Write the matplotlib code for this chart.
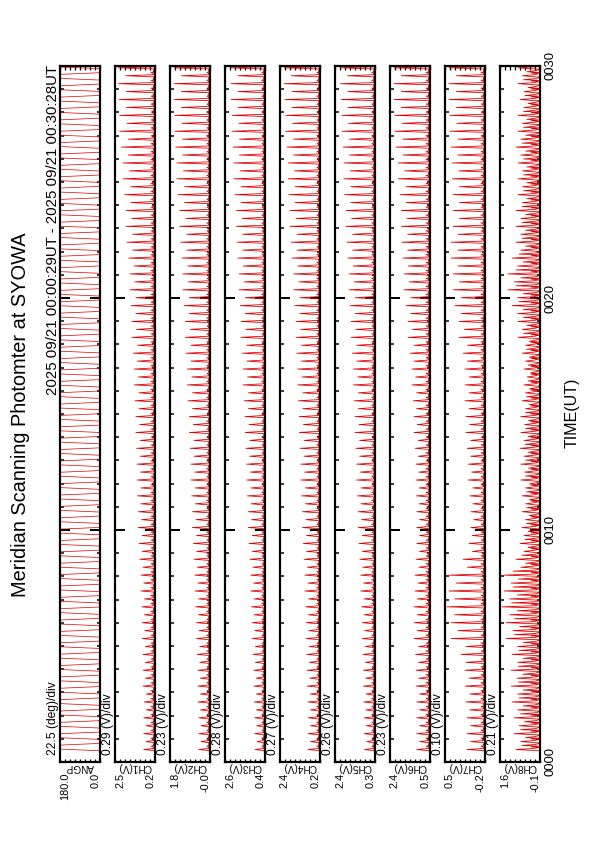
#!/usr/bin/env python3
import numpy as np
import matplotlib.pyplot as plt

plt.rcParams['font.family'] = ['Liberation Sans', 'DejaVu Sans']

W, H = 595, 842

title = "Meridian Scanning Photomter at SYOWA"
header = "2025 09/21 00:00:29UT - 2025 09/21 00:30:28UT"

names = ["ANGP", "CH1(V)", "CH2(V)", "CH3(V)", "CH4(V)", "CH5(V)", "CH6(V)", "CH7(V)", "CH8(V)"]
vmax = [180.0, 2.5, 1.8, 2.6, 2.4, 2.4, 2.4, 0.5, 1.6]
vmin = [0.0, 0.2, -0.0, 0.4, 0.2, 0.3, 0.5, -0.2, -0.1]
vmax_lbl = ["180.0", "2.5", "1.8", "2.6", "2.4", "2.4", "2.4", "0.5", "1.6"]
vmin_lbl = ["0.0", "0.2", "-0.0", "0.4", "0.2", "0.3", "0.5", "-0.2", "-0.1"]
div_lbl = ["22.5 (deg)/div", "0.29 (V)/div", "0.23 (V)/div", "0.28 (V)/div", "0.27 (V)/div",
           "0.26 (V)/div", "0.23 (V)/div", "0.10 (V)/div", "0.21 (V)/div"]

time_ticks = [0, 10, 20, 30]
time_lbl = ["0000", "0010", "0020", "0030"]

# scan timing (minutes from 0000)
t_start = 29 / 60
t_end = 30 + 28 / 60
sweep_min = 20.5 / 60      # one photometer spike per sweep
ang_half_min = 14.7 / 60   # angle flips 0->180 or 180->0 once in this time
ang_move = 0.3             # part of that time spent moving, rest dwelling at the end
ang_ends = [0.0, 180.0]

# peak height of the spikes, per minute 0..29, as fraction of the panel range
peak_frac = {
    "CH1(V)": [0.28, 0.28, 0.27, 0.30, 0.30, 0.32, 0.33, 0.35, 0.38, 0.40, 0.42, 0.44, 0.45, 0.46, 0.48,
               0.50, 0.52, 0.55, 0.58, 0.60, 0.63, 0.66, 0.70, 0.73, 0.76, 0.80, 0.84, 0.88, 0.90, 0.92],
    "CH2(V)": [0.28, 0.28, 0.30, 0.30, 0.32, 0.34, 0.36, 0.38, 0.40, 0.42, 0.44, 0.46, 0.48, 0.50, 0.52,
               0.55, 0.57, 0.60, 0.62, 0.65, 0.68, 0.70, 0.73, 0.76, 0.80, 0.83, 0.86, 0.88, 0.90, 0.90],
    "CH3(V)": [0.25, 0.26, 0.27, 0.28, 0.30, 0.32, 0.34, 0.36, 0.38, 0.40, 0.42, 0.44, 0.46, 0.48, 0.50,
               0.52, 0.55, 0.57, 0.60, 0.62, 0.65, 0.68, 0.70, 0.72, 0.75, 0.78, 0.80, 0.82, 0.85, 0.85],
    "CH4(V)": [0.30, 0.30, 0.30, 0.32, 0.33, 0.35, 0.36, 0.38, 0.40, 0.42, 0.44, 0.46, 0.48, 0.50, 0.52,
               0.54, 0.56, 0.58, 0.60, 0.63, 0.66, 0.70, 0.72, 0.75, 0.78, 0.80, 0.83, 0.86, 0.88, 0.90],
    "CH5(V)": [0.26, 0.27, 0.28, 0.29, 0.30, 0.32, 0.34, 0.36, 0.38, 0.40, 0.42, 0.44, 0.46, 0.48, 0.50,
               0.52, 0.54, 0.57, 0.60, 0.62, 0.65, 0.68, 0.70, 0.73, 0.76, 0.78, 0.80, 0.83, 0.85, 0.86],
    "CH6(V)": [0.33, 0.33, 0.33, 0.35, 0.36, 0.40, 0.40, 0.38, 0.35, 0.33, 0.33, 0.34, 0.35, 0.37, 0.40,
               0.42, 0.45, 0.50, 0.55, 0.60, 0.65, 0.68, 0.70, 0.72, 0.75, 0.80, 0.85, 0.88, 0.90, 0.90],
    "CH7(V)": [0.45, 0.45, 0.48, 0.50, 0.60, 0.85, 0.95, 0.90, 0.55, 0.40, 0.35, 0.38, 0.42, 0.45, 0.48,
               0.50, 0.50, 0.55, 0.65, 0.75, 0.80, 0.85, 0.85, 0.80, 0.80, 0.82, 0.85, 0.88, 0.90, 0.90],
    "CH8(V)": [0.60, 0.65, 0.70, 0.72, 0.70, 0.85, 0.95, 0.90, 0.60, 0.50, 0.45, 0.45, 0.48, 0.50, 0.48,
               0.45, 0.40, 0.45, 0.55, 0.70, 0.80, 0.70, 0.60, 0.60, 0.55, 0.55, 0.60, 0.55, 0.50, 0.55],
}
# small bump between spikes and the baseline, fraction of range
ripple_frac = {"CH1(V)": 0.10, "CH2(V)": 0.08, "CH3(V)": 0.08, "CH4(V)": 0.08, "CH5(V)": 0.08,
               "CH6(V)": 0.10, "CH7(V)": 0.10, "CH8(V)": 0.22}
base_frac = 0.03
back_sweep = [1.0, 0.8]   # spike on forward / return sweep

red = '#e00000'

sweeps = np.arange(t_start, t_end, sweep_min)
ang_times = np.arange(t_start, t_end, ang_half_min)

def ang_trace():
    t, a = [], []
    for k, tk in enumerate(ang_times):
        t += [tk, tk + ang_move * ang_half_min]
        a += [ang_ends[k % 2], ang_ends[(k + 1) % 2]]
    return np.array(t), np.array(a)

def ch_trace(name, lo, hi):
    rng = hi - lo
    pk = peak_frac[name]
    rp = ripple_frac[name]
    dbl = name == "CH8(V)"
    t, v = [], []
    for k, tk in enumerate(sweeps):
        m = min(int(tk), len(pk) - 1)
        p = pk[m] * back_sweep[k % 2]
        ph = [0.0, 0.02, 0.16, 0.30, 0.42, 0.50, 0.58, 0.66, 0.80, 0.92]
        if dbl:
            lv = [base_frac, rp * 0.5, p, rp * 0.6, base_frac, rp, base_frac, p * 0.75, rp * 0.5, base_frac]
        else:
            lv = [base_frac, base_frac, p, base_frac, rp * 0.5, base_frac, rp, base_frac, rp * 0.4, base_frac]
        for f, l in zip(ph, lv):
            t.append(tk + f * sweep_min)
            v.append(lo + l * rng)
    return np.array(t), np.array(v)

fig = plt.figure(figsize=(W / 72, H / 72), dpi=72)

p_top, p_bot = 66, 762
for i, name in enumerate(names):
    L = 60 + 55 * i
    ax = fig.add_axes([L / W, 1 - p_bot / H, 40 / W, (p_bot - p_top) / H])
    if i == 0:
        t, v = ang_trace()
        ax.plot(v, t, color=red, lw=0.7)
    else:
        t, v = ch_trace(name, vmin[i], vmax[i])
        ax.plot(v, t, color=red, lw=0.8)
    ax.set_xlim(vmax[i], vmin[i])
    ax.set_ylim(0, 30)
    ax.set_yticks(time_ticks)
    ax.set_yticks(np.arange(0, 31, 1), minor=True)
    ax.set_xticks(np.linspace(vmin[i], vmax[i], 9))
    ax.tick_params(axis='y', which='major', direction='in', length=10, width=2,
                   left=True, right=True, labelleft=False)
    ax.tick_params(axis='y', which='minor', direction='in', length=3.5, width=1.5,
                   left=True, right=True)
    ax.tick_params(axis='x', direction='in', length=3.5, width=1.3, top=True, bottom=True,
                   labelbottom=False)
    for s in ax.spines.values():
        s.set_linewidth(2.2)

    fig.text((L - 7) / W, 1 - 755 / H, div_lbl[i], rotation=90, ha='center', va='bottom', fontsize=12)
    fig.text((L + 20) / W, 1 - 766.5 / H, name, rotation=180, ha='center', va='center', fontsize=10)
    fig.text((L + 5) / W, 1 - 773 / H, vmax_lbl[i], rotation=90, ha='center', va='top', fontsize=11)
    fig.text((L + 36) / W, 1 - 773 / H, vmin_lbl[i], rotation=90, ha='center', va='top', fontsize=11)

for tt, lbl in zip(time_ticks, time_lbl):
    y = p_bot - tt / 30 * (p_bot - p_top)
    fig.text(551 / W, 1 - y / H, lbl, rotation=90, ha='center', va='center', fontsize=13)

fig.text(21 / W, 1 - 415 / H, title, rotation=90, ha='center', va='center', fontsize=20)
fig.text(53 / W, 1 - 65 / H, header, rotation=90, ha='center', va='top', fontsize=15)
fig.text(572 / W, 1 - 413 / H, "TIME(UT)", rotation=90, ha='center', va='center', fontsize=16)

fig.savefig("out.png", dpi=72)
